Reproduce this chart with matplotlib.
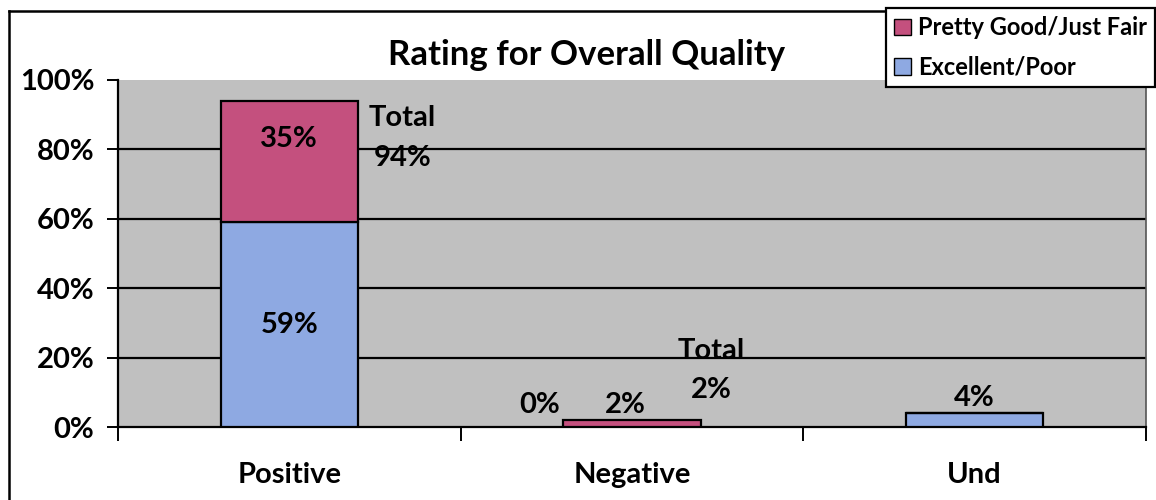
import matplotlib.pyplot as plt
from matplotlib.lines import Line2D
from matplotlib.patches import Patch
import numpy as np

plt.rcParams["font.family"] = ["Lato", "DejaVu Sans"]
plt.rcParams["font.weight"] = "bold"

categories = ["Positive", "Negative", "Und"]
excellent_poor = [59, 0, 4]
pretty_good_fair = [35, 2, 0]
y_ticks = [0, 20, 40, 60, 80, 100]

PINK = "#c4507e"
BLUE = "#8ea9e2"
GRAY = "#c0c0c0"

fig = plt.figure(figsize=(11.56, 5.0), dpi=100)
ax = fig.add_axes([118 / 1156, 1 - 427 / 500, (1146 - 118) / 1156, (427 - 80) / 500])
ax.set_facecolor(GRAY)

x = np.arange(len(categories))
ep = np.array(excellent_poor)
pg = np.array(pretty_good_fair)
ax.bar(x, ep, width=0.4, color=BLUE, edgecolor="black", linewidth=1.6, zorder=3)
ax.bar(x, pg, width=0.4, bottom=ep, color=PINK, edgecolor="black", linewidth=1.6, zorder=3)

ax.set_xlim(-0.5, 2.5)
ax.set_ylim(0, 100)
ax.set_yticks(y_ticks)
ax.set_yticklabels([f"{v}%" for v in y_ticks], fontsize=21)
for v in y_ticks[1:-1]:
    ax.axhline(v, color="black", lw=1.6, zorder=1)

ax.set_xticks(x)
ax.set_xticklabels(categories, fontsize=21)
ax.set_xticks([-0.5, 0.5, 1.5, 2.5], minor=True)
ax.tick_params(axis="x", which="major", length=0, pad=25)
ax.tick_params(axis="x", which="minor", length=10, width=1.4, direction="out")
ax.tick_params(axis="y", length=8, width=1.4, pad=9)

for side in ["left", "bottom"]:
    ax.spines[side].set_linewidth(1.6)
ax.spines["top"].set_visible(False)
ax.spines["right"].set_color("#555555")
ax.spines["right"].set_linewidth(1.2)

# segment labels
lbl = dict(ha="center", va="center", fontsize=21, fontweight="bold", zorder=5)
ax.text(x[0], ep[0] / 2, f"{ep[0]}%", **lbl)
ax.text(x[0], ep[0] + pg[0] / 2 + 6.5, f"{pg[0]}%", **lbl)
ax.text(x[0] + 0.33, 89, "Total", **lbl)
ax.text(x[0] + 0.33, 77.5, f"{ep[0] + pg[0]}%", **lbl)

ax.text(x[1] - 0.27, ep[1] + 6.3, f"{ep[1]}%", **lbl)
ax.text(x[1] - 0.02, pg[1] + 4.3, f"{pg[1]}%", **lbl)
ax.text(x[1] + 0.23, 22, "Total", **lbl)
ax.text(x[1] + 0.23, 10.7, f"{ep[1] + pg[1]}%", **lbl)

ax.text(x[2], ep[2] + 4.4, f"{ep[2]}%", **lbl)

fig.text(587 / 1156, 1 - 55 / 500, "Rating for Overall Quality", ha="center", va="center",
         fontsize=25, fontweight="bold")

# outer chart frame
fig.add_artist(Line2D([9 / 1156, 9 / 1156], [0, 1 - 11 / 500], color="black", lw=1.8))
fig.add_artist(Line2D([9 / 1156, 1], [1 - 11 / 500, 1 - 11 / 500], color="black", lw=1.8))

handles = [Patch(facecolor=PINK, edgecolor="black", label="Pretty Good/Just Fair"),
           Patch(facecolor=BLUE, edgecolor="black", label="Excellent/Poor")]
leg = fig.legend(handles=handles, loc="upper left", bbox_to_anchor=(886 / 1156, 1 - 8 / 500),
                 frameon=True, fancybox=False, edgecolor="black", framealpha=1,
                 fontsize=17, handlelength=0.7, handleheight=0.7, handletextpad=0.3,
                 labelspacing=0.7, borderpad=0.35, borderaxespad=0)
leg.get_frame().set_linewidth(1.6)

fig.savefig("out.png", dpi=100)
